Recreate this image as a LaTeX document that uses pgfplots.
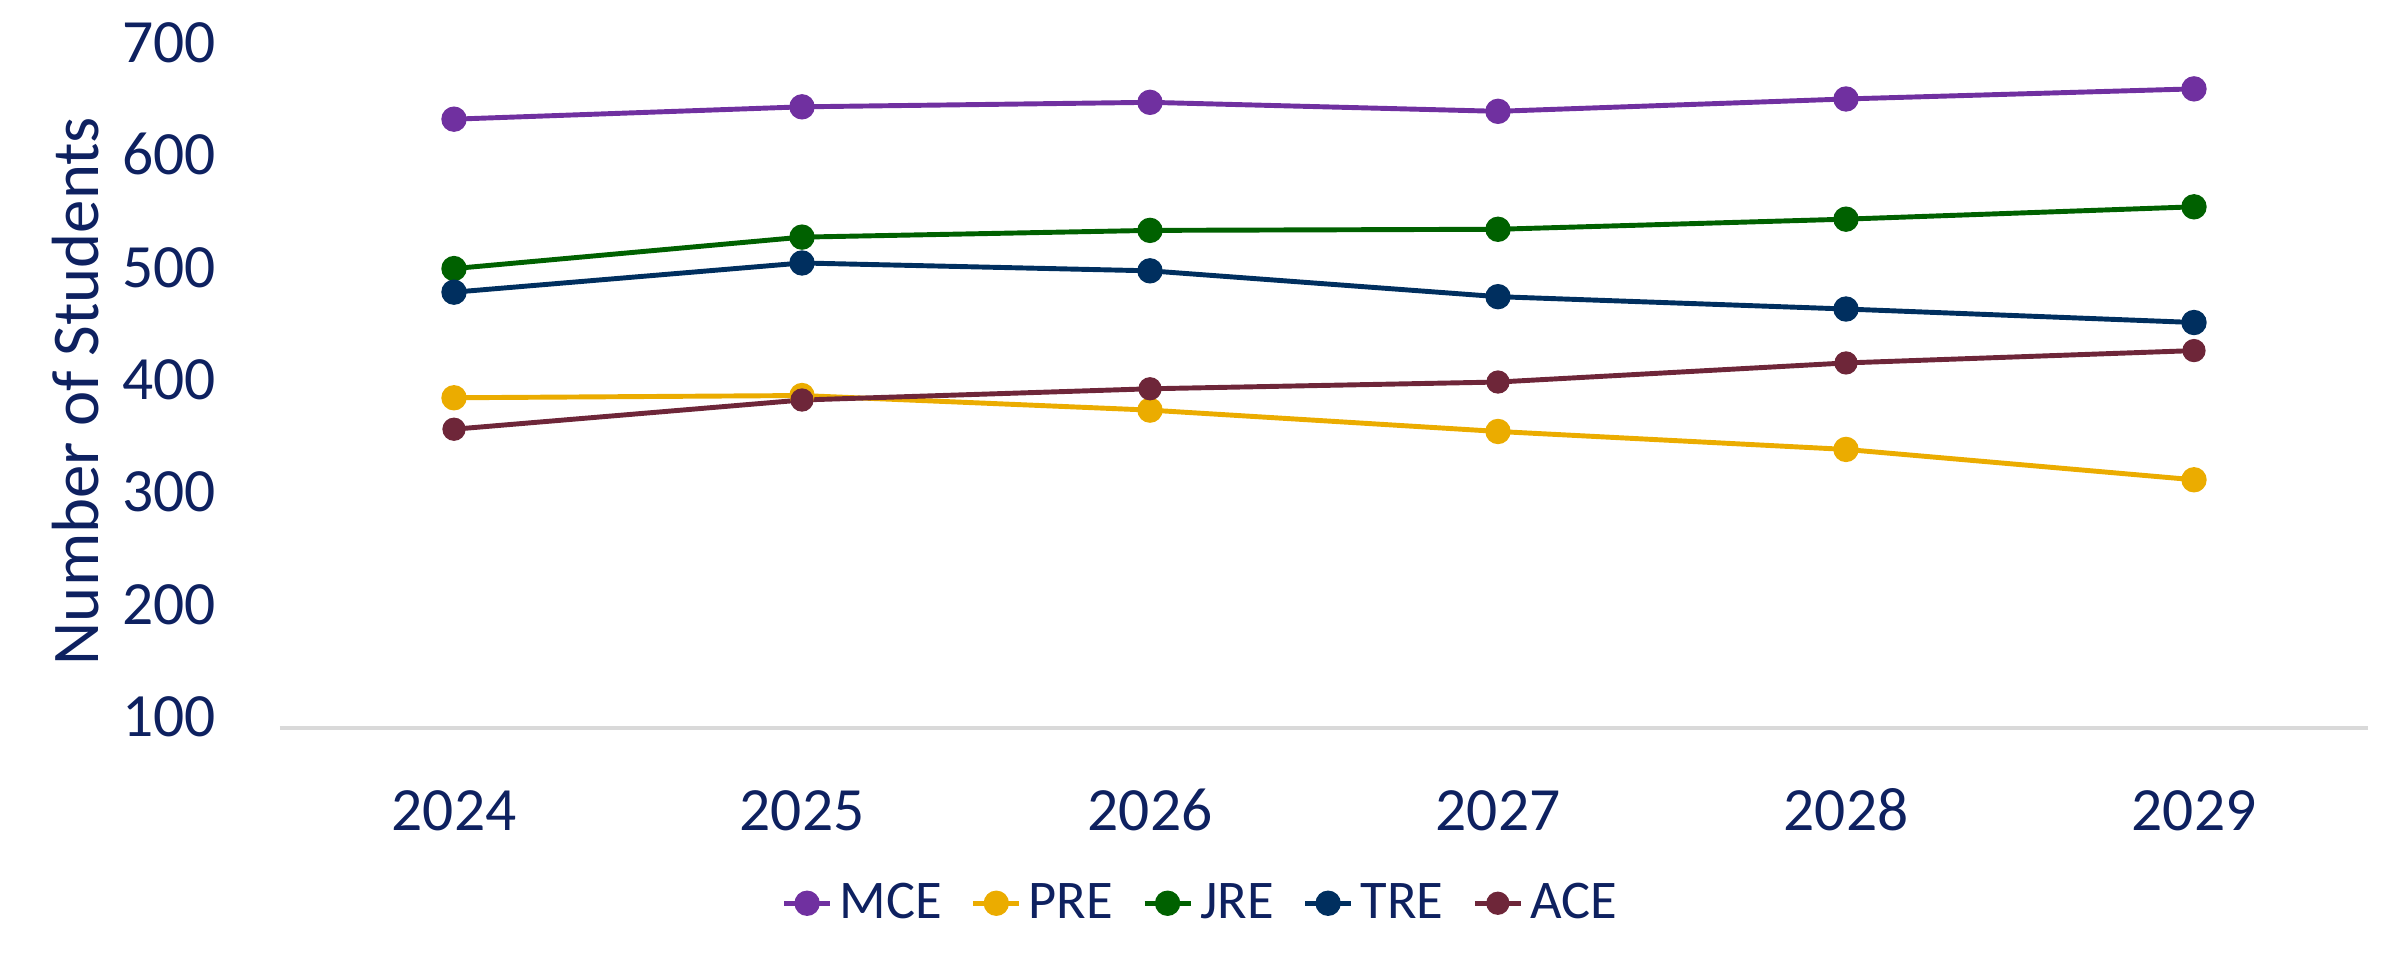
\documentclass[border=0pt]{standalone}
\usepackage{fontspec}
\setmainfont{Carlito}
\usepackage{pgfplots}
\pgfplotsset{compat=1.18}
\definecolor{txt}{HTML}{0E2160}
\definecolor{mce}{HTML}{7030A0}
\definecolor{pre}{HTML}{EBAC00}
\definecolor{jre}{HTML}{006100}
\definecolor{tre}{HTML}{002F5F}
\definecolor{ace}{HTML}{6E2639}

\begin{document}
\begin{tikzpicture}
\path (-2.80cm,-2.29cm) rectangle (21.17cm,7.28cm);
\begin{axis}[
    at={(0,0)}, anchor=south west,
    scale only axis,
    width=20.88cm, height=6.74cm,
    xmin=-0.5, xmax=5.5,
    ymin=100, ymax=700,
    xtick={0,1,2,3,4,5},
    xticklabels={2024,2025,2026,2027,2028,2029},
    ytick={100,200,...,700},
    axis x line*=bottom, axis y line*=left,
    x axis line style={draw=black!15, line width=1.2pt, -},
    y axis line style={draw=none},
    major tick length=0pt,
    /pgf/number format/assume math mode=true,
    /pgf/number format/1000 sep={},
    tick label style={font=\fontsize{17.5}{20}\selectfont, text=txt},
    xticklabel style={anchor=base, yshift=-1.02cm},
    yticklabel style={anchor=mid east, xshift=-0.52cm},
    ylabel={Number of Students},
    ylabel style={font=\fontsize{19}{22}\selectfont, text=txt,
        at={(axis description cs:-0.0977,0.5)}, rotate=0, anchor=center},
    every axis plot/.append style={line width=1.4pt, mark=*, mark size=2.9pt},
    legend columns=5,
    legend style={draw=none, fill=none, at={(0.442,-0.26)}, anchor=center,
        font=\fontsize{15.5}{18}\selectfont, text=txt,
        /tikz/every even column/.append style={column sep=0.22cm}},
    legend cell align=left,
    legend image code/.code={\draw[mark repeat=2,mark phase=2] plot coordinates {(0cm,0cm) (0.23cm,0cm) (0.46cm,0cm)};},
]
\addplot[color=mce] coordinates {(0,642) (1,653) (2,657) (3,649) (4,660) (5,669)};
\addlegendentry{MCE}
\addplot[color=pre] coordinates {(0,394) (1,396) (2,383) (3,364) (4,348) (5,321)};
\addlegendentry{PRE}
\addplot[color=jre] coordinates {(0,509) (1,537) (2,543) (3,544) (4,553) (5,564)};
\addlegendentry{JRE}
\addplot[color=tre] coordinates {(0,488) (1,514) (2,507) (3,484) (4,473) (5,461)};
\addlegendentry{TRE}
\addplot[color=ace, mark size=2.6pt] coordinates {(0,366) (1,392) (2,402) (3,408) (4,425) (5,436)};
\addlegendentry{ACE}
\end{axis}
\end{tikzpicture}
\end{document}
